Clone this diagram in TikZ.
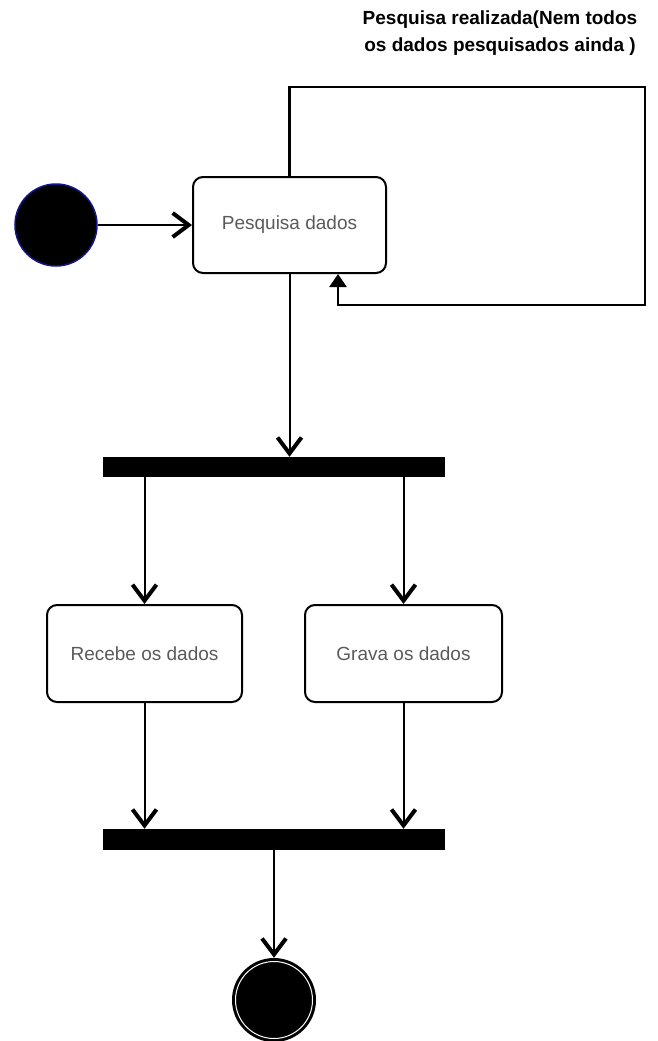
\documentclass[tikz,border=0pt]{standalone}
\usepackage{fontspec}
\setmainfont{Liberation Sans}
\usetikzlibrary{positioning}
\usetikzlibrary{arrows.meta}
\definecolor{txtgray}{HTML}{5A5A5A}
\definecolor{startblue}{HTML}{14148C}
\tikzset{
	activity/.style = {draw, line width = 2pt, rounded corners = 10pt, text = txtgray, font = \fontsize{19}{22}\selectfont},
	bar/.style = {fill = black, inner sep = 0pt, minimum width = 342pt, minimum height = 20pt},
	flow/.style = {line width = 2pt, -{Straight Barb[length = 16pt, width = 24pt, line width = 4pt]}},
	selfflow/.style = {line width = 2.5pt, -{Triangle[length = 13pt, width = 17pt]}}
}
\begin{document}
\begin{tikzpicture}[x = 1pt, y = -1pt]
					\useasboundingbox (0, 0) rectangle (657, 1041);
					\node [circle, fill = black, draw = startblue, line width = 1.5pt, minimum size = 82pt] (start) at (56, 225) {};
					\node [activity, minimum width = 193pt, minimum height = 96pt] (pesq) at (289.5, 225) {Pesquisa dados};
					\node [bar] (fork) at (274, 467) {};
					\node [activity, minimum width = 195pt, minimum height = 97pt] (recebe) at (144.5, 653.5) {Recebe os dados};
					\node [activity, minimum width = 197pt, minimum height = 97pt] (grava) at (403.5, 653.5) {Grava os dados};
					\node [bar, minimum height = 21pt] (join) at (274, 839.5) {};
					\node [circle, fill = black, minimum size = 84pt, inner sep = 0pt] (end) at (274, 1000) {};
					\draw [white, line width = 1pt] (end.center) circle (38.5pt);
					\node [align = center, anchor = north, font = \fontsize{19}{27}\selectfont\bfseries] (cond) at (500, 7) {Pesquisa realizada(Nem todos\\os dados pesquisados ainda )};
					\coordinate (loopTR) at (645, 87);
					\coordinate (loopBR) at (645, 305);
					\draw [flow] (start) -- (pesq);
					\draw [selfflow] (pesq.north) |- (loopTR) -- (loopBR) -| ([xshift = 48.5pt]pesq.south);
					\draw [flow] (pesq.south) -- (pesq.south |- fork.north);
					\draw [flow] (fork.south -| recebe.north) -- (recebe.north);
					\draw [flow] (fork.south -| grava.north) -- (grava.north);
					\draw [flow] (recebe.south) -- (recebe.south |- join.north);
					\draw [flow] (grava.south) -- (grava.south |- join.north);
					\draw [flow] (join.south -| end.north) -- (end.north);
				\end{tikzpicture}
\end{document}
